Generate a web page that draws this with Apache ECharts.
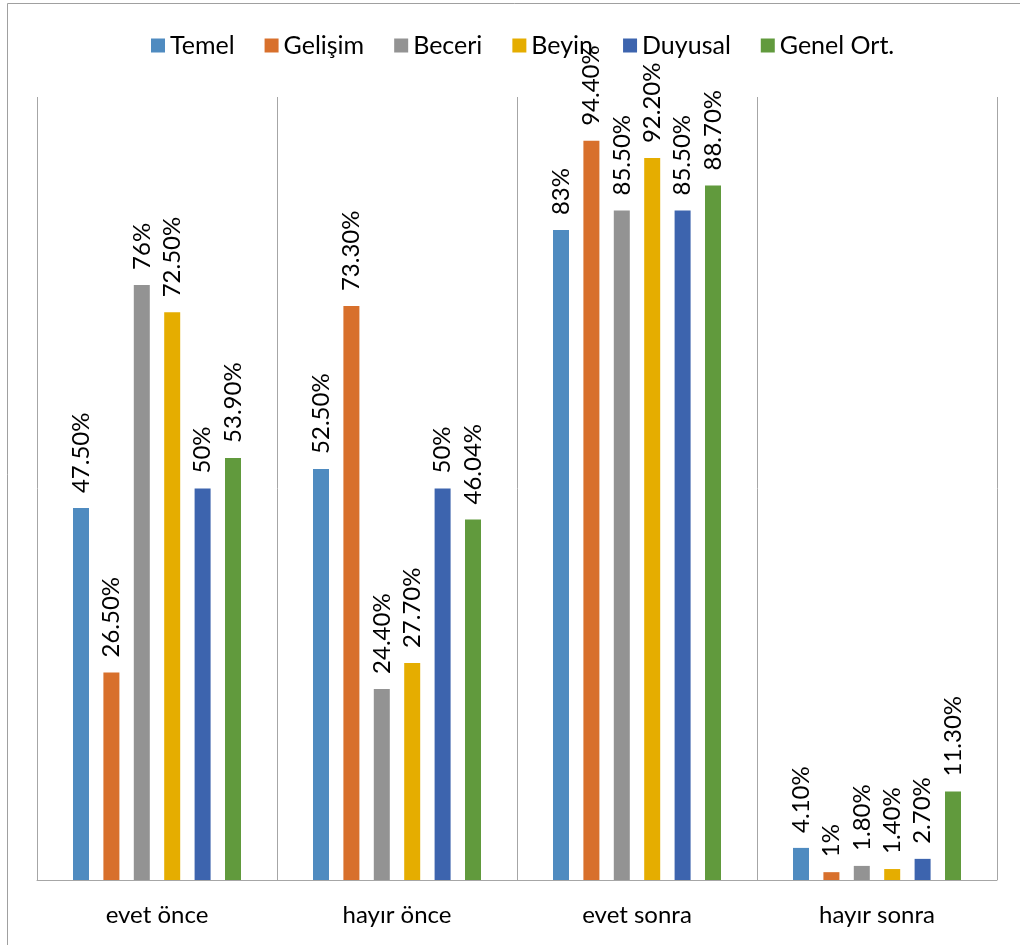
<!DOCTYPE html>
<html>
<head>
<meta charset="utf-8">
<script src="https://cdn.jsdelivr.net/npm/echarts@6/dist/echarts.min.js"></script>
<style>
  html, body { margin: 0; padding: 0; background: #ffffff; }
  #chart { width: 1020px; height: 945px; }
</style>
</head>
<body>
<div id="chart"></div>
<script>
// Survey answers before/after, percentage per area
const categories = ['evet önce', 'hayır önce', 'evet sonra', 'hayır sonra'];
const seriesNames = ['Temel', 'Gelişim', 'Beceri', 'Beyin', 'Duyusal', 'Genel Ort.'];
const temel   = [47.5, 52.5, 83, 4.1];
const gelisim = [26.5, 73.3, 94.4, 1];
const beceri  = [76, 24.4, 85.5, 1.8];
const beyin   = [72.5, 27.7, 92.2, 1.4];
const duyusal = [50, 50, 85.5, 2.7];
const genel   = [53.9, 46.04, 88.7, 11.3];

const seriesValues = [temel, gelisim, beceri, beyin, duyusal, genel];
const colors = ['#4f8bc0', '#d8702c', '#939393', '#e5ad00', '#3d64ae', '#619a3d'];
const FONT = "Lato, 'Open Sans', sans-serif";

function pct(v) {
  return (Number.isInteger(v) ? String(v) : v.toFixed(2)) + '%';
}

const chart = echarts.init(document.getElementById('chart'), null, { renderer: 'canvas' });

chart.setOption({
  animation: false,
  backgroundColor: '#ffffff',
  color: colors,
  textStyle: { fontFamily: FONT },
  graphic: [{
    type: 'rect',
    shape: { x: 7.5, y: 3.5, width: 1040, height: 980 },
    style: { fill: 'none', stroke: '#a0a0a0', lineWidth: 1 },
    silent: true
  }],
  legend: {
    top: 28,
    left: 146,
    itemWidth: 14,
    itemHeight: 14,
    itemGap: 30,
    icon: 'rect',
    textStyle: { fontSize: 25, color: '#000000', fontFamily: FONT },
    data: seriesNames
  },
  grid: { left: 37, right: 23, top: 97, bottom: 65, containLabel: false },
  xAxis: {
    type: 'category',
    data: categories,
    axisLine: { lineStyle: { color: '#a6a6a6', width: 1 } },
    axisTick: { show: false },
    axisLabel: { fontSize: 24, color: '#000000', margin: 23, fontFamily: FONT },
    splitLine: { show: true, lineStyle: { color: '#a6a6a6', width: 1 } }
  },
  yAxis: {
    type: 'value',
    min: 0,
    max: 100,
    show: false,
    splitLine: { show: false }
  },
  series: seriesNames.map((name, i) => ({
    name: name,
    type: 'bar',
    data: seriesValues[i],
    barGap: '90%',
    barCategoryGap: '30%',
    label: {
      show: true,
      position: 'top',
      rotate: 90,
      align: 'left',
      verticalAlign: 'middle',
      distance: 15,
      fontSize: 24,
      color: '#000000',
      fontFamily: FONT,
      formatter: p => pct(p.value)
    }
  }))
});
</script>
</body>
</html>
